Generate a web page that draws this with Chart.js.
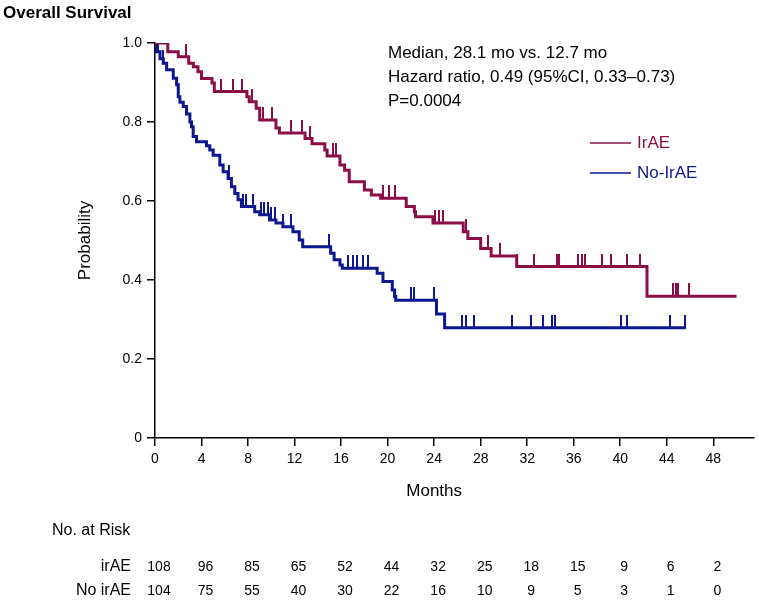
<!DOCTYPE html>
<html>
<head>
<meta charset="utf-8">
<script src="https://cdn.jsdelivr.net/npm/chart.js@4.4.1/dist/chart.umd.min.js"></script>
<style>
  html, body { margin: 0; padding: 0; background: #fff; }
</style>
</head>
<body>
<canvas id="myChart" width="759" height="601"></canvas>
<script>
// Kaplan-Meier steps: [month, survival after the drop]
var irAESteps = [
  [0, 1.0], [1.1, 0.978], [2.0, 0.965], [2.9, 0.949], [3.3, 0.94], [3.7, 0.927],
  [4.0, 0.91], [4.9, 0.899], [5.1, 0.877], [7.9, 0.864], [8.1, 0.851], [8.7, 0.835],
  [9.0, 0.805], [10.4, 0.785], [10.7, 0.772], [12.9, 0.758], [13.5, 0.745], [14.6, 0.729],
  [14.8, 0.714], [15.9, 0.691], [16.3, 0.678], [16.7, 0.649], [18.0, 0.628], [18.6, 0.615],
  [19.4, 0.607], [21.6, 0.586], [22.3, 0.573], [22.4, 0.56], [23.9, 0.544], [26.5, 0.522],
  [26.9, 0.505], [28.0, 0.48], [28.9, 0.461], [31.1, 0.434], [42.3, 0.359]
];
var irAEEnd = 50.0;
var irAECensor = [0.9, 2.7, 5.7, 6.7, 7.5, 8.3, 9.3, 10.1, 11.7, 12.6, 13.3, 15.3, 15.6,
  19.6, 20.1, 20.6, 24.1, 24.4, 24.8, 26.7, 28.6, 29.7, 31.1, 32.6, 34.6, 34.7, 36.4,
  36.7, 37.0, 38.4, 39.2, 40.6, 41.7, 44.5, 44.8, 45.0, 45.9];

var noIrAESteps = [
  [0, 1.0], [0.09, 0.978], [0.43, 0.96], [0.71, 0.949], [1.0, 0.932], [1.57, 0.911],
  [1.86, 0.894], [2.0, 0.864], [2.14, 0.85], [2.43, 0.839], [2.71, 0.82], [3.0, 0.80],
  [3.14, 0.788], [3.28, 0.763], [3.57, 0.75], [4.43, 0.74], [4.71, 0.729], [5.0, 0.716],
  [5.57, 0.691], [5.86, 0.674], [6.28, 0.657], [6.57, 0.636], [6.86, 0.619], [7.14, 0.603],
  [7.43, 0.586], [8.57, 0.573], [9.0, 0.565], [9.85, 0.552], [10.4, 0.544], [11.0, 0.535],
  [11.86, 0.522], [12.4, 0.501], [12.7, 0.484], [15.1, 0.468], [15.4, 0.451], [15.9, 0.438],
  [16.1, 0.43], [19.1, 0.417], [19.6, 0.396], [20.4, 0.375], [20.6, 0.358], [20.7, 0.349],
  [24.2, 0.314], [24.9, 0.279]
];
var noIrAEEnd = 45.6;
var noIrAECensor = [0.28, 0.71, 6.4, 7.57, 7.86, 8.43, 9.1, 9.4, 9.7, 10.0, 10.3, 11.0,
  11.7, 15.0, 16.6, 17.0, 17.4, 17.9, 18.3, 22.0, 22.3, 24.0, 26.4, 26.7, 27.4, 30.7,
  32.3, 33.4, 34.1, 34.4, 40.1, 40.6, 44.3, 45.6];

var xTicks = [0, 4, 8, 12, 16, 20, 24, 28, 32, 36, 40, 44, 48];
var yTicks = [0, 0.2, 0.4, 0.6, 0.8, 1.0];
var yTickLabels = ['0', '0.2', '0.4', '0.6', '0.8', '1.0'];

var irAERisk = [108, 96, 85, 65, 52, 44, 32, 25, 18, 15, 9, 6, 2];
var noIrAERisk = [104, 75, 55, 40, 30, 22, 16, 10, 9, 5, 3, 1, 0];

var statLines = ['Median, 28.1 mo vs. 12.7 mo', 'Hazard ratio, 0.49 (95%CI, 0.33\u20130.73)', 'P=0.0004'];

var RED = '#8b0f47';
var BLUE = '#0c1790';
var FONT = '"Liberation Sans", Arial, sans-serif';

function stepLine(steps, end) {
  var pts = steps.map(function (s) { return { x: s[0], y: s[1] }; });
  pts.push({ x: end, y: steps[steps.length - 1][1] });
  return pts;
}

function survAt(steps, t) {
  var v = steps[0][1];
  for (var i = 0; i < steps.length; i++) {
    if (steps[i][0] <= t) v = steps[i][1];
  }
  return v;
}

function censorPoints(steps, times) {
  return times.map(function (t) { return { x: t, y: survAt(steps, t) }; });
}

// little vertical tick sitting on top of the line
function censorMark(color) {
  var c = document.createElement('canvas');
  c.width = 2;
  c.height = 26;
  var g = c.getContext('2d');
  g.fillStyle = color;
  g.fillRect(0, 0, 2, 14);
  return c;
}

var extras = {
  id: 'extras',
  afterDraw: function (chart) {
    var ctx = chart.ctx;
    var xs = chart.scales.x;
    var ys = chart.scales.y;
    ctx.save();
    ctx.textBaseline = 'middle';

    ctx.fillStyle = '#000';
    ctx.textAlign = 'left';
    ctx.font = 'bold 17px ' + FONT;
    ctx.fillText('Overall Survival', 3, 13);

    ctx.font = '17px ' + FONT;
    ctx.textAlign = 'center';
    ctx.fillText('Months', (xs.getPixelForValue(0) + xs.getPixelForValue(48)) / 2, 491);
    ctx.save();
    ctx.translate(85, (ys.top + ys.bottom) / 2);
    ctx.rotate(-Math.PI / 2);
    ctx.fillText('Probability', 0, 0);
    ctx.restore();

    ctx.textAlign = 'left';
    statLines.forEach(function (s, i) {
      ctx.fillText(s, 388, 53 + i * 24);
    });

    // legend
    ctx.lineWidth = 1.5;
    [[RED, 'IrAE', 143], [BLUE, 'No-IrAE', 173]].forEach(function (l) {
      ctx.strokeStyle = l[0];
      ctx.beginPath();
      ctx.moveTo(590, l[2]);
      ctx.lineTo(631, l[2]);
      ctx.stroke();
      ctx.fillStyle = l[0];
      ctx.fillText(l[1], 637, l[2]);
    });

    // numbers at risk
    ctx.fillStyle = '#000';
    ctx.font = '16px ' + FONT;
    ctx.fillText('No. at Risk', 52, 531);
    ctx.textAlign = 'right';
    ctx.fillText('irAE', 131, 567);
    ctx.fillText('No irAE', 131, 591);
    ctx.textAlign = 'center';
    ctx.font = '14px ' + FONT;
    xTicks.forEach(function (m, i) {
      var px = xs.getPixelForValue(m) + 4;
      ctx.fillText(String(irAERisk[i]), px, 567);
      ctx.fillText(String(noIrAERisk[i]), px, 591);
    });
    ctx.restore();
  }
};

var ctx = document.getElementById('myChart').getContext('2d');
var chart = new Chart(ctx, {
  type: 'line',
  data: {
    datasets: [
      {
        label: 'IrAE',
        data: stepLine(irAESteps, irAEEnd),
        stepped: 'before',
        borderColor: RED,
        borderWidth: 3,
        pointRadius: 0,
        fill: false
      },
      {
        label: 'No-IrAE',
        data: stepLine(noIrAESteps, noIrAEEnd),
        stepped: 'before',
        borderColor: BLUE,
        borderWidth: 3,
        pointRadius: 0,
        fill: false
      },
      {
        label: 'IrAE censored',
        type: 'scatter',
        data: censorPoints(irAESteps, irAECensor),
        pointStyle: censorMark(RED),
        showLine: false
      },
      {
        label: 'No-IrAE censored',
        type: 'scatter',
        data: censorPoints(noIrAESteps, noIrAECensor),
        pointStyle: censorMark(BLUE),
        showLine: false
      }
    ]
  },
  options: {
    responsive: false,
    animation: false,
    layout: { padding: { top: 43, right: 4, left: 0, bottom: 0 } },
    plugins: {
      legend: { display: false },
      tooltip: { enabled: false }
    },
    scales: {
      x: {
        type: 'linear',
        min: 0,
        max: 51.5,
        afterBuildTicks: function (scale) {
          scale.ticks = xTicks.map(function (v) { return { value: v }; });
        },
        afterFit: function (scale) { scale.height = 163; },
        grid: { drawOnChartArea: false, drawTicks: true, tickLength: 8, color: '#000', lineWidth: 1.5 },
        border: { display: true, color: '#000', width: 1.5 },
        ticks: {
          color: '#000',
          font: { family: FONT, size: 14 },
          padding: 5,
          maxRotation: 0,
          callback: function (v) { return String(v); }
        }
      },
      y: {
        type: 'linear',
        min: 0,
        max: 1,
        afterBuildTicks: function (scale) {
          scale.ticks = yTicks.map(function (v) { return { value: v }; });
        },
        afterFit: function (scale) { scale.width = 155; },
        grid: { drawOnChartArea: false, drawTicks: true, tickLength: 8, color: '#000', lineWidth: 1.5 },
        border: { display: true, color: '#000', width: 1.5 },
        ticks: {
          color: '#000',
          font: { family: FONT, size: 14 },
          padding: 5,
          callback: function (v, i) { return yTickLabels[i]; }
        }
      }
    }
  },
  plugins: [extras]
});
</script>
</body>
</html>
